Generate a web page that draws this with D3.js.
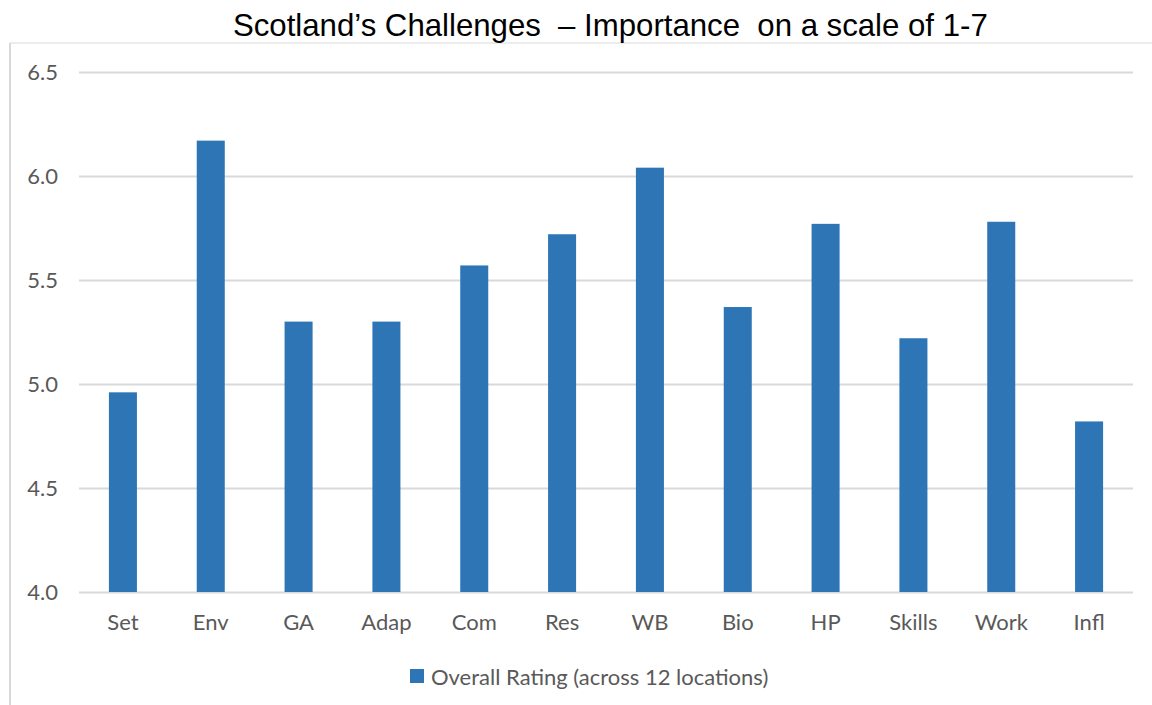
<!DOCTYPE html>
<html>
<head>
<meta charset="utf-8">
<script src="https://cdn.jsdelivr.net/npm/d3@7"></script>
<style>
  html, body { margin: 0; padding: 0; background: #fff; }
  svg { display: block; }
  text { white-space: pre; }
</style>
</head>
<body>
<svg id="chart" width="1152" height="705"></svg>
<script>
// Challenge categories and their overall importance rating (scale 1-7)
const categories = ["Set", "Env", "GA", "Adap", "Com", "Res", "WB", "Bio", "HP", "Skills", "Work", "Infl"];
const ratings = [4.96, 6.17, 5.30, 5.30, 5.57, 5.72, 6.04, 5.37, 5.77, 5.22, 5.78, 4.82];
const yTicks = [4.0, 4.5, 5.0, 5.5, 6.0, 6.5];
const seriesName = "Overall Rating (across 12 locations)";
const chartTitle = "Scotland\u2019s Challenges  \u2013 Importance  on a scale of 1-7";

const svg = d3.select("#chart");
const W = 1152, H = 705;
const plot = { left: 79, right: 1133, top: 72, bottom: 592 };
const barColor = "#2E75B6";
const textColor = "#595959";
const gridColor = "#d9d9d9";
const labelFont = "Lato, 'Open Sans', sans-serif";
const labelSize = 22;

svg.append("rect").attr("width", W).attr("height", H).attr("fill", "#fff");

// Chart area frame (top and left edges visible)
svg.append("line").attr("x1", 10).attr("x2", W).attr("y1", 43).attr("y2", 43)
  .attr("stroke", "#e6e6e6").attr("stroke-width", 1.5);
svg.append("line").attr("x1", 10).attr("x2", 10).attr("y1", 43).attr("y2", H)
  .attr("stroke", "#d9d9d9").attr("stroke-width", 2);

// Title, horizontally condensed to fit its 755px slot
const titleLeft = 233, titleWidth = 755;
const titleG = svg.append("g");
const title = titleG.append("text")
  .attr("x", 0).attr("y", 0)
  .attr("font-family", "'Liberation Sans', Arial, sans-serif")
  .attr("font-size", 32)
  .attr("fill", "#000")
  .text(chartTitle);
const naturalWidth = title.node().getComputedTextLength();
titleG.attr("transform", `translate(${titleLeft},36) scale(${titleWidth / naturalWidth},1)`);

const x = d3.scaleBand()
  .domain(categories)
  .range([plot.left, plot.right])
  .paddingInner(0.681)
  .paddingOuter(0.3405);

const y = d3.scaleLinear()
  .domain([yTicks[0], yTicks[yTicks.length - 1]])
  .range([plot.bottom, plot.top]);

// Horizontal gridlines with value labels
const yAxis = d3.axisLeft(y)
  .tickValues(yTicks)
  .tickFormat(d3.format(".1f"))
  .tickSize(-(plot.right - plot.left))
  .tickPadding(21);

const gy = svg.append("g")
  .attr("transform", `translate(${plot.left},0)`)
  .call(yAxis);
gy.select(".domain").remove();
gy.selectAll(".tick line").attr("stroke", gridColor).attr("stroke-width", 2);
gy.selectAll(".tick text")
  .attr("fill", textColor)
  .attr("font-family", labelFont)
  .attr("font-size", labelSize);

// Bars
svg.append("g").selectAll("rect")
  .data(categories.map((c, i) => ({ c, v: ratings[i] })))
  .join("rect")
  .attr("x", d => x(d.c))
  .attr("width", x.bandwidth())
  .attr("y", d => y(d.v))
  .attr("height", d => y(yTicks[0]) - y(d.v))
  .attr("fill", barColor);

// Category axis labels
const xAxis = d3.axisBottom(x).tickSize(0).tickPadding(22);
const gx = svg.append("g")
  .attr("transform", `translate(0,${plot.bottom})`)
  .call(xAxis);
gx.select(".domain").remove();
gx.selectAll(".tick text")
  .attr("fill", textColor)
  .attr("font-family", labelFont)
  .attr("font-size", labelSize);

// Legend
const legend = svg.append("g").attr("transform", "translate(410,669)");
legend.append("rect").attr("width", 14).attr("height", 14).attr("fill", barColor);
legend.append("text")
  .attr("x", 21).attr("y", 16)
  .attr("fill", textColor)
  .attr("font-family", labelFont)
  .attr("font-size", labelSize)
  .text(seriesName);
</script>
</body>
</html>
